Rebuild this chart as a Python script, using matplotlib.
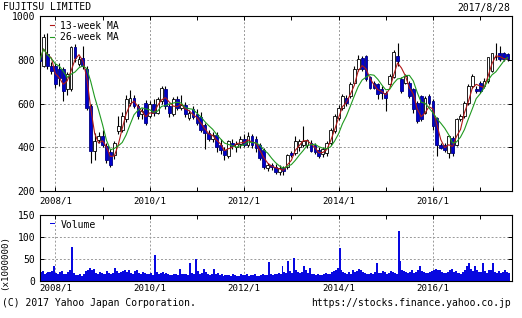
import pandas as pd
import matplotlib.pyplot as plt
from matplotlib.ticker import FixedLocator

plt.rcParams['font.family'] = 'DejaVu Sans Mono'

# monthly candles, 2007/9 .. 2017/8 (index 0 = 2007/9)
opens = [818, 772, 826, 772, 772, 757, 757, 665, 665, 857, 780, 806, 757, 588, 381, 434, 450, 404, 380, 365,
         473, 480, 527, 603, 626, 588, 550, 603, 542, 596, 557, 611, 665, 590, 550, 619, 580, 595, 535, 575,
         550, 540, 500, 465, 440, 457, 410, 388, 358, 420, 400, 415, 440, 410, 450, 440, 411, 388, 305, 320,
         310, 289, 304, 312, 376, 373, 400, 410, 410, 420, 410, 388, 370, 373, 419, 473, 534, 580, 626, 634,
         696, 757, 806, 818, 719, 696, 688, 665, 650, 688, 719, 818, 711, 696, 696, 665, 603, 634, 557, 634,
         611, 534, 412, 412, 373, 442, 412, 527, 542, 603, 680, 665, 696, 680, 703, 750, 811, 831, 831, 826]
highs = [842, 918, 923, 790, 785, 787, 765, 745, 865, 870, 815, 865, 770, 600, 465, 470, 480, 420, 390, 430,
         545, 560, 640, 660, 640, 600, 580, 615, 610, 620, 630, 680, 680, 600, 630, 635, 640, 605, 570, 590,
         575, 560, 510, 480, 470, 470, 440, 400, 435, 440, 430, 450, 460, 470, 460, 450, 420, 395, 330, 330,
         325, 320, 315, 370, 385, 450, 440, 496, 440, 435, 420, 400, 400, 430, 490, 550, 595, 645, 640, 700,
         770, 822, 815, 822, 725, 705, 695, 680, 655, 735, 845, 877, 720, 735, 705, 670, 610, 640, 635, 645,
         620, 540, 420, 420, 455, 450, 535, 550, 610, 690, 735, 680, 705, 715, 760, 820, 877, 865, 835, 830]
lows = [757, 765, 757, 735, 670, 680, 611, 640, 655, 790, 770, 760, 570, 327, 340, 420, 400, 330, 312, 345,
        460, 470, 515, 590, 580, 530, 530, 500, 535, 545, 550, 600, 575, 540, 545, 570, 570, 540, 525, 530,
        500, 470, 390, 430, 425, 380, 370, 340, 350, 390, 380, 395, 400, 400, 395, 380, 340, 300, 290, 295,
        280, 273, 275, 300, 355, 365, 385, 400, 395, 380, 370, 350, 355, 360, 410, 465, 525, 570, 590, 625,
        690, 750, 750, 705, 665, 665, 619, 620, 565, 680, 715, 772, 650, 690, 625, 557, 511, 520, 550, 595,
        481, 358, 390, 380, 350, 358, 405, 520, 535, 595, 670, 650, 650, 670, 695, 745, 800, 795, 795, 795]
closes = [795, 903, 772, 749, 688, 718, 657, 734, 857, 810, 803, 772, 580, 381, 427, 450, 411, 342, 320, 419,
          496, 542, 619, 626, 588, 542, 565, 511, 596, 557, 619, 673, 588, 557, 619, 580, 595, 550, 557, 540,
          511, 480, 465, 440, 457, 400, 388, 365, 427, 405, 415, 440, 410, 450, 410, 396, 350, 312, 320, 310,
          289, 304, 290, 365, 365, 427, 430, 430, 432, 385, 380, 358, 390, 419, 480, 542, 580, 634, 603, 688,
          757, 803, 760, 711, 673, 673, 642, 650, 627, 726, 834, 796, 657, 726, 634, 573, 519, 527, 626, 603,
          496, 412, 396, 388, 450, 373, 527, 542, 603, 680, 726, 657, 657, 703, 811, 831, 811, 803, 803, 803]

# volume (x1000000), two readings per month
volume = [18, 20, 22, 17, 19, 21, 20, 23, 35, 18, 16, 20, 22, 15, 17, 21, 25, 77, 18, 14,
          13, 16, 12, 15, 22, 26, 30, 24, 28, 19, 17, 20, 18, 15, 16, 22, 19, 17, 18, 30,
          22, 19, 20, 23, 26, 21, 25, 18, 17, 22, 24, 18, 16, 20, 19, 17, 15, 18, 14, 58,
          20, 16, 18, 21, 15, 19, 17, 14, 13, 16, 15, 14, 28, 17, 16, 15, 14, 42, 18, 15,
          50, 22, 17, 19, 28, 21, 16, 14, 15, 28, 16, 18, 13, 15, 12, 14, 14, 13, 12, 15,
          13, 12, 12, 16, 14, 13, 15, 12, 13, 14, 16, 12, 12, 14, 15, 13, 14, 44, 16, 13,
          17, 15, 19, 16, 35, 20, 18, 45, 22, 19, 52, 24, 21, 18, 20, 35, 24, 19, 30, 17,
          16, 14, 15, 13, 14, 16, 18, 15, 17, 20, 22, 25, 30, 75, 26, 20, 18, 16, 20, 17,
          25, 21, 22, 27, 24, 20, 19, 17, 16, 18, 17, 20, 40, 19, 18, 22, 20, 17, 19, 23,
          21, 18, 17, 114, 45, 25, 22, 20, 18, 21, 24, 19, 20, 26, 33, 22, 21, 19, 18, 20,
          22, 26, 28, 24, 25, 21, 19, 18, 21, 24, 27, 20, 22, 19, 18, 17, 20, 24, 35, 40,
          28, 22, 35, 24, 21, 20, 40, 22, 19, 24, 26, 42, 20, 18, 23, 19, 21, 25, 20, 18]

tick_pos = [4, 28, 52, 76, 100]
tick_labels = ['2008/1', '2010/1', '2012/1', '2014/1', '2016/1']
minor_pos = [16, 40, 64, 88, 112]

df = pd.DataFrame({'open': opens, 'high': highs, 'low': lows, 'close': closes})
df['ma13'] = df['close'].rolling(3, min_periods=1).mean()
df['ma26'] = df['close'].rolling(6, min_periods=1).mean()
x = df.index.values
up = df['close'] >= df['open']

fig = plt.figure(figsize=(5.22, 3.18), dpi=100)
ax = fig.add_axes([40 / 522, 1 - 191 / 318, 472 / 522, 175 / 318])
axv = fig.add_axes([40 / 522, 1 - 281 / 318, 472 / 522, 66 / 318])

# candles
ax.vlines(x, df['low'], df['high'], color='black', lw=0.8, zorder=2)
body_low = df[['open', 'close']].min(axis=1)
body_h = (df['close'] - df['open']).abs().clip(lower=3)
ax.bar(x[up], body_h[up], bottom=body_low[up], width=0.7, color='white', edgecolor='black', lw=0.6, zorder=3)
ax.bar(x[~up], body_h[~up], bottom=body_low[~up], width=0.7, color='#0000cc', edgecolor='#000080', lw=0.6, zorder=3)
ax.plot(x, df['ma13'], color='#b01818', lw=0.8, label='13-week MA', zorder=4)
ax.plot(x, df['ma26'], color='#209a20', lw=0.8, label='26-week MA', zorder=4)

# volume
vx = [i / 2 - 0.25 for i in range(len(volume))]
axv.bar(vx, volume, width=0.5, color='#0808e0', edgecolor='none', label='Volume')

for a in (ax, axv):
    a.set_xlim(0.1, 120.1)
    a.xaxis.set_major_locator(FixedLocator(tick_pos))
    a.xaxis.set_minor_locator(FixedLocator(minor_pos))
    a.set_xticklabels(tick_labels)
    a.grid(True, which='major', color='#999999', ls=(0, (2, 2)), lw=0.7)
    a.tick_params(which='both', direction='in', top=True, right=True, length=3, width=0.7, labelsize=7)
    a.tick_params(axis='x', labelsize=6.6)
    for s in a.spines.values():
        s.set_linewidth(0.8)
    a.set_axisbelow(True)

ax.set_ylim(200, 1000)
ax.set_yticks([200, 400, 600, 800, 1000])
ax.tick_params(axis='x', pad=4)
axv.set_ylim(0, 150)
axv.set_yticks([0, 50, 100, 150])
axv.tick_params(axis='x', pad=1.5)

ax.legend(loc='upper left', frameon=False, fontsize=7, handlelength=0.5, handletextpad=0.6,
          labelspacing=0.15, borderpad=0.2, borderaxespad=0.3, bbox_to_anchor=(0.01, 1.0))
leg = axv.legend(loc='upper left', frameon=False, fontsize=7, handlelength=0.5, handletextpad=0.6,
                 borderpad=0.2, borderaxespad=0.3, bbox_to_anchor=(0.01, 1.0))
for h in leg.legend_handles:
    h.set_height(0.8)
    h.set_width(4)
    h.set_y(2.5)

fig.text(3 / 522, 1 - 7.5 / 318, 'FUJITSU LIMITED', fontsize=7, va='center', ha='left')
fig.text(510 / 522, 1 - 8 / 318, '2017/8/28', fontsize=7, va='center', ha='right')
fig.text(2 / 522, 1 - 303 / 318, '(C) 2017 Yahoo Japan Corporation.', fontsize=7, va='center', ha='left')
fig.text(511 / 522, 1 - 303 / 318, 'https://stocks.finance.yahoo.co.jp', fontsize=7, va='center', ha='right')
fig.text(5 / 522, 1 - 262 / 318, '(x1000000)', fontsize=6.6, va='center', ha='center', rotation=90)

fig.savefig('out.png', dpi=100)
